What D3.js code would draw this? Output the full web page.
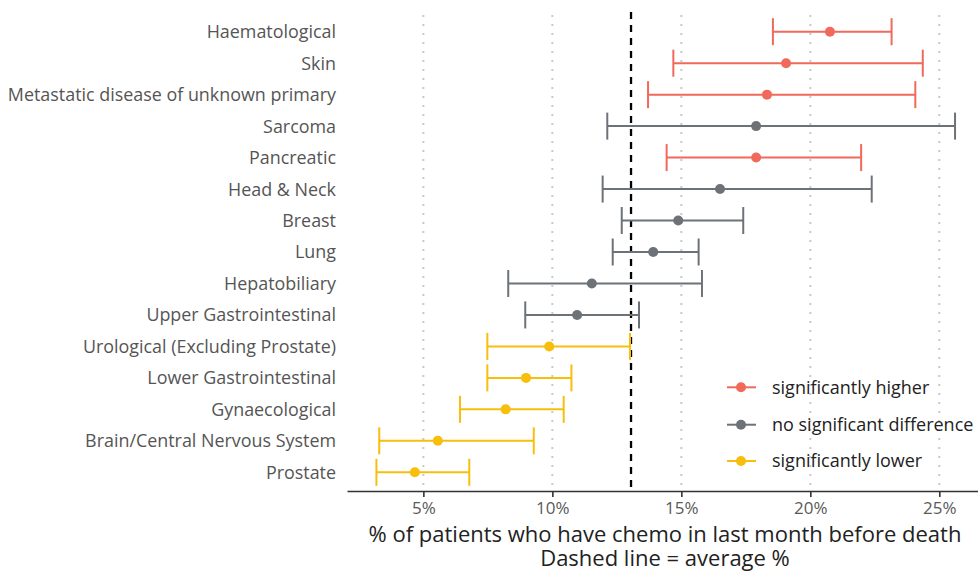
<!DOCTYPE html>
<html>
<head>
<meta charset="utf-8">
<script src="https://cdn.jsdelivr.net/npm/d3@7"></script>
<style>
  html, body { margin: 0; padding: 0; background: #fff; }
  svg { display: block; font-family: "Open Sans", "Noto Sans", sans-serif; }
</style>
</head>
<body>
<svg id="chart" width="978" height="574"></svg>
<script>
// Cancer groups, top to bottom
const categories = [
  "Haematological", "Skin", "Metastatic disease of unknown primary", "Sarcoma",
  "Pancreatic", "Head & Neck", "Breast", "Lung", "Hepatobiliary",
  "Upper Gastrointestinal", "Urological (Excluding Prostate)",
  "Lower Gastrointestinal", "Gynaecological", "Brain/Central Nervous System", "Prostate"
];
// % of patients having chemo in the last month before death
const estimate = [20.76, 19.06, 18.32, 17.90, 17.90, 16.50, 14.88, 13.91, 11.53, 10.96, 9.88, 8.98, 8.19, 5.56, 4.67];
const lower    = [18.55, 14.69, 13.71, 12.13, 14.43, 11.95, 12.69, 12.34, 8.29, 8.95, 7.48, 7.48, 6.42, 3.29, 3.18];
const upper    = [23.15, 24.36, 24.07, 25.61, 21.97, 22.38, 17.40, 15.67, 15.80, 13.36, 13.01, 10.74, 10.44, 9.28, 6.78];
const significance = ["higher", "higher", "higher", "none", "higher", "none", "none", "none", "none", "none", "lower", "lower", "lower", "lower", "lower"];
const averagePct = 13.05;

const groupKeys = ["higher", "none", "lower"];
const groupLabels = ["significantly higher", "no significant difference", "significantly lower"];
const groupColours = ["#F0695A", "#6C7277", "#F8BE0C"];
const tickValues = [5, 10, 15, 20, 25];

const rows = categories.map((c, i) => ({
  name: c, est: estimate[i], lo: lower[i], hi: upper[i], sig: significance[i]
}));

const svg = d3.select("#chart");
const panel = { left: 347, right: 978, top: 15, bottom: 491 };

const x = d3.scaleLinear().domain([2.04, 26.5]).range([panel.left, panel.right]);
const y = d3.scalePoint().domain(categories).range([31.7, 472.3]);
const colour = d3.scaleOrdinal().domain(groupKeys).range(groupColours);

// vertical dotted gridlines
svg.append("g").selectAll("line").data(tickValues).join("line")
  .attr("x1", d => x(d)).attr("x2", d => x(d))
  .attr("y1", panel.top).attr("y2", panel.bottom)
  .attr("stroke", "#c8c8c8").attr("stroke-width", 2)
  .attr("stroke-dasharray", "2,7").attr("stroke-linecap", "butt");

// category labels
svg.append("g").selectAll("text").data(categories).join("text")
  .attr("x", 336).attr("y", d => y(d)).attr("dy", "0.36em")
  .attr("text-anchor", "end").attr("fill", "#555")
  .attr("font-size", 17.9).text(d => d);

// average dashed line
svg.append("line")
  .attr("x1", x(averagePct)).attr("x2", x(averagePct))
  .attr("y1", 12).attr("y2", panel.bottom)
  .attr("stroke", "#000").attr("stroke-width", 2.3)
  .attr("stroke-dasharray", "7,6");

// error bars and points
const capHalf = 13.5;
const g = svg.append("g").selectAll("g").data(rows).join("g")
  .attr("stroke", d => colour(d.sig)).attr("fill", d => colour(d.sig));
g.append("line")
  .attr("x1", d => x(d.lo)).attr("x2", d => x(d.hi))
  .attr("y1", d => y(d.name)).attr("y2", d => y(d.name))
  .attr("stroke-width", 2);
g.append("line")
  .attr("x1", d => x(d.lo)).attr("x2", d => x(d.lo))
  .attr("y1", d => y(d.name) - capHalf).attr("y2", d => y(d.name) + capHalf)
  .attr("stroke-width", 2);
g.append("line")
  .attr("x1", d => x(d.hi)).attr("x2", d => x(d.hi))
  .attr("y1", d => y(d.name) - capHalf).attr("y2", d => y(d.name) + capHalf)
  .attr("stroke-width", 2);
g.append("circle")
  .attr("cx", d => x(d.est)).attr("cy", d => y(d.name))
  .attr("r", 5).attr("stroke", "none");

// x axis
const axis = svg.append("g").attr("transform", `translate(0,${panel.bottom})`)
  .call(d3.axisBottom(x).tickValues(tickValues).tickFormat(d => d + "%")
    .tickSize(6).tickSizeOuter(0).tickPadding(5));
axis.select(".domain").attr("stroke", "#333").attr("stroke-width", 1.6);
axis.selectAll(".tick line").attr("stroke", "#333").attr("stroke-width", 1.6);
axis.selectAll(".tick text").attr("fill", "#5a5a5a").attr("font-size", 17)
  .attr("font-family", "\"Open Sans\", \"Noto Sans\", sans-serif");

// axis title
const title = svg.append("text").attr("text-anchor", "middle")
  .attr("fill", "#222").attr("font-size", 22);
title.append("tspan").attr("x", 665).attr("y", 542).text("% of patients who have chemo in last month before death");
title.append("tspan").attr("x", 665).attr("y", 566).text("Dashed line = average %");

// legend
const legend = svg.append("g").selectAll("g").data(groupKeys).join("g")
  .attr("transform", (d, i) => `translate(0,${[387.3, 424.7, 461][i]})`);
legend.append("line").attr("x1", 727).attr("x2", 756).attr("y1", 0).attr("y2", 0)
  .attr("stroke", d => colour(d)).attr("stroke-width", 2);
legend.append("circle").attr("cx", 741).attr("cy", 0).attr("r", 5).attr("fill", d => colour(d));
legend.append("text").attr("x", 772).attr("y", 0).attr("dy", "0.36em")
  .attr("fill", "#222").attr("font-size", 18)
  .text((d, i) => groupLabels[i]);
</script>
</body>
</html>
